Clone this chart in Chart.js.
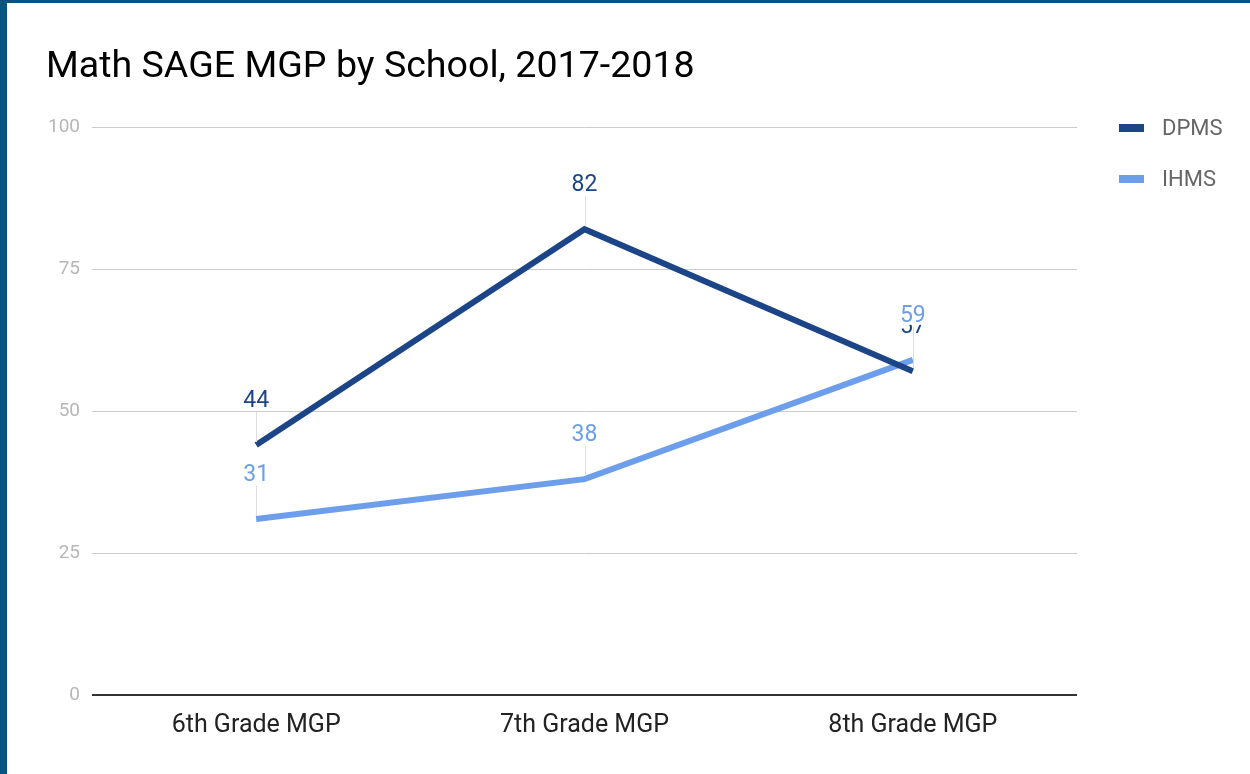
<!DOCTYPE html>
<html>
<head>
<meta charset="utf-8">
<script src="https://cdn.jsdelivr.net/npm/chart.js@4/dist/chart.umd.min.js"></script>
<style>
  html, body { margin: 0; padding: 0; background: #fff; }
  #wrap { position: relative; width: 1250px; height: 774px; overflow: hidden; }
  #c { position: absolute; left: 0; top: 0; }
  .bl { position: absolute; left: 0; top: 0; width: 7px; height: 774px; background: #0b5482; }
  .bt { position: absolute; left: 0; top: 0; width: 1250px; height: 3px; background: #0b5482; }
</style>
</head>
<body>
<div id="wrap">
  <canvas id="c" width="1250" height="774"></canvas>
  <div class="bl"></div><div class="bt"></div>
</div>
<script>
const chartTitle = "Math SAGE MGP by School, 2017-2018";
const categories = ["6th Grade MGP", "7th Grade MGP", "8th Grade MGP"];
const seriesNames = ["DPMS", "IHMS"];
const dpmsValues = [44, 82, 57];
const ihmsValues = [31, 38, 59];
const yTicks = [0, 25, 50, 75, 100];
const seriesColors = ["#1c4587", "#6d9eeb"];

const FONT = "Roboto, 'Noto Sans', Arial, sans-serif";

const overlayPlugin = {
  id: 'overlay',
  afterDatasetsDraw(chart) {
    const ctx = chart.ctx;
    ctx.save();
    chart.data.datasets.forEach((ds, di) => {
      const meta = chart.getDatasetMeta(di);
      meta.data.forEach((pt, i) => {
        const x = pt.x, y = pt.y;
        ctx.strokeStyle = '#dddddd';
        ctx.lineWidth = 1;
        ctx.beginPath();
        ctx.moveTo(Math.round(x) + 0.5, y - 3);
        ctx.lineTo(Math.round(x) + 0.5, y - 33);
        ctx.stroke();
        const txt = String(ds.data[i]);
        ctx.font = "23px " + FONT;
        ctx.textAlign = 'center';
        ctx.textBaseline = 'middle';
        const w = ctx.measureText(txt).width;
        const ly = y - 44;
        ctx.fillStyle = '#ffffff';
        ctx.fillRect(x - w / 2 - 1, ly - 9, w + 2, 18);
        ctx.fillStyle = ds.borderColor;
        ctx.fillText(txt, x, ly);
      });
    });
    ctx.restore();
  },
  afterDraw(chart) {
    const ctx = chart.ctx;
    ctx.save();
    ctx.font = "37.6px " + FONT;
    ctx.fillStyle = '#000000';
    ctx.textAlign = 'left';
    ctx.textBaseline = 'alphabetic';
    ctx.fillText(chartTitle, 46, 77);
    chart.data.datasets.forEach((ds, di) => {
      const cy = 128 + di * 51;
      ctx.fillStyle = ds.borderColor;
      ctx.fillRect(1119, cy - 4, 25, 8);
      ctx.font = "22px " + FONT;
      ctx.fillStyle = '#666666';
      ctx.textBaseline = 'middle';
      ctx.fillText(ds.label, 1162, cy + 1);
    });
    ctx.restore();
  }
};

new Chart(document.getElementById('c'), {
  type: 'line',
  data: {
    labels: categories,
    datasets: [
      { label: seriesNames[0], data: dpmsValues, borderColor: seriesColors[0], backgroundColor: seriesColors[0] },
      { label: seriesNames[1], data: ihmsValues, borderColor: seriesColors[1], backgroundColor: seriesColors[1] }
    ]
  },
  options: {
    responsive: false,
    animation: false,
    devicePixelRatio: 1,
    layout: { padding: { left: 0, top: 127, right: 173, bottom: 0 } },
    elements: {
      line: { borderWidth: 6, tension: 0, borderCapStyle: 'butt' },
      point: { radius: 0, hoverRadius: 0 }
    },
    plugins: { legend: { display: false }, title: { display: false }, tooltip: { enabled: false } },
    scales: {
      x: {
        offset: true,
        grid: { display: false, drawTicks: false },
        border: { display: false },
        ticks: { color: '#222222', font: { family: FONT, size: 25 }, padding: 16 },
        afterFit(scale) { scale.height = 79; }
      },
      y: {
        min: 0, max: 100,
        afterBuildTicks(scale) { scale.ticks = yTicks.map(v => ({ value: v })); },
        grid: {
          drawTicks: false,
          color: (c) => (c.tick && c.tick.value === 0) ? '#333333' : '#cccccc',
          lineWidth: (c) => (c.tick && c.tick.value === 0) ? 2 : 1
        },
        border: { display: false },
        ticks: { color: '#b7b7b7', font: { family: FONT, size: 19 }, padding: 12 },
        afterFit(scale) { scale.width = 92; }
      }
    }
  },
  plugins: [overlayPlugin]
});
</script>
</body>
</html>
